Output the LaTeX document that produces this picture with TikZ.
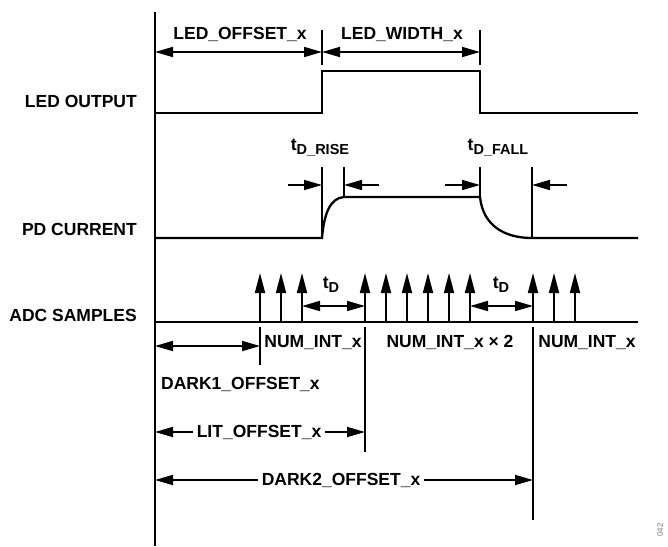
\documentclass[tikz,border=0pt]{standalone}
\usepackage{fontspec}
\setmainfont{Liberation Sans}
\usetikzlibrary{arrows.meta,positioning}
\definecolor{ink}{HTML}{000000}
\newcommand\tsub[1]{t\raisebox{-0.45ex}{\fontsize{14.5}{16}\selectfont #1}}

\begin{document}
\begin{tikzpicture}[x=1pt,y=-1pt,font=\fontsize{17.5}{20}\selectfont\bfseries,
 >={Triangle[length=18pt,width=10pt]},
 sig/.style={line width=2.3pt,ink},
 dim/.style={<->,line width=1.7pt,ink},
 half/.style={->,line width=1.7pt,ink},
 tickline/.style={line width=1.2pt,ink},
 rowlbl/.style={anchor=base east,inner sep=0pt},
 dimlbl/.style={anchor=base,inner sep=0pt},
 gaplbl/.style={inner xsep=4pt,inner ysep=0pt},
 samp/.style={-{Triangle[length=20pt,width=10pt]},line width=1.7pt,ink}]
 \useasboundingbox (0,0) rectangle (668,546);
 % key positions
 \coordinate (ax) at (155,0);
 \coordinate (on) at (322,0);
 \coordinate (off) at (480,0);
 \coordinate (top) at (344,0);
 \coordinate (low) at (532,0);
 \draw[line width=2.4pt] (155,12) -- (155,546);
 % row labels
 \node[rowlbl] (ledlbl) at (137,107) {LED OUTPUT};
 \node[rowlbl] (pdlbl) at (137,235) {PD CURRENT};
 \node[rowlbl] (adclbl) at (137,321) {ADC SAMPLES};
 % LED output
 \draw[sig] (155,113) -- (on|-0,113) -- (on|-0,71) -- (off|-0,71) -- (off|-0,113) -- (638,113);
 \draw[tickline] (on|-0,30) -- (on|-0,65) (off|-0,30) -- (off|-0,65);
 \coordinate (a0) at (155,52);
 \coordinate (a1) at (on|-a0);
 \coordinate (a2) at (off|-a0);
 \draw[dim] (a0) -- (a1);
 \draw[dim] (a1) -- (a2);
 \node[dimlbl] (ledoff) at (240,39) {LED\_OFFSET\_x};
 \node[dimlbl] (ledwid) at (402,39) {LED\_WIDTH\_x};
 % PD current
 \draw[sig] (155,238) -- (322,238) .. controls (324,214) and (330,198) .. (344,197)
   -- (480,197) .. controls (483,226) and (505,238) .. (532,238) -- (638,238);
 \draw[tickline] (on|-0,167) -- (on|-0,238) (top|-0,167) -- (top|-0,197)
   (off|-0,167) -- (off|-0,197) (low|-0,167) -- (low|-0,238);
 \coordinate (r0) at (288,185);
 \coordinate (r1) at (on|-r0);
 \coordinate (r2) at (379,185);
 \coordinate (r3) at (top|-r0);
 \coordinate (f0) at (445,185);
 \coordinate (f1) at (off|-r0);
 \coordinate (f2) at (567,185);
 \coordinate (f3) at (low|-r0);
 \draw[half] (r0) -- (r1);
 \draw[half] (r2) -- (r3);
 \draw[half] (f0) -- (f1);
 \draw[half] (f2) -- (f3);
 \node[dimlbl] (trise) at (320,150) {\tsub{D\_RISE}};
 \node[dimlbl] (tfall) at (498,150) {\tsub{D\_FALL}};
 % ADC samples
 \draw[sig] (155,322) -- (638,322);
 \foreach \x in {260,281,302,365,386,407,428,449,470,533,554,575}
   \draw[samp] (\x,322) -- (\x,273);
 \coordinate (d0) at (302,306);
 \coordinate (d1) at (365,306);
 \coordinate (d2) at (470,306);
 \coordinate (d3) at (533,306);
 \draw[dim] (d0) -- (d1);
 \draw[dim] (d2) -- (d3);
 \node[dimlbl] (td1) at (331,288) {\tsub{D}};
 \node[dimlbl] (td2) at (501,288) {\tsub{D}};
 \draw[tickline] (260,327) -- (260,365) (365,327) -- (365,452) (533,327) -- (533,520);
 \node[dimlbl] (n1) at (313,347) {NUM\_INT\_x};
 \node[dimlbl] (n2) at (450,347) {NUM\_INT\_x × 2};
 \node[dimlbl] (n3) at (587,347) {NUM\_INT\_x};
 % offsets
 \coordinate (k0) at (155,346);
 \coordinate (k1) at (260,346);
 \draw[dim] (k0) -- (k1);
 \node[anchor=base west,inner sep=0pt] (dark1) at (161,389) {DARK1\_OFFSET\_x};
 \coordinate (l0) at (155,432);
 \coordinate (l1) at (365,432);
 \node[gaplbl] (lit) at (259,432) {LIT\_OFFSET\_x};
 \draw[half] (lit) -- (l0);
 \draw[half] (lit) -- (l1);
 \coordinate (m0) at (155,480);
 \coordinate (m1) at (533,480);
 \node[gaplbl] (dark2) at (341,480) {DARK2\_OFFSET\_x};
 \draw[half] (dark2) -- (m0);
 \draw[half] (dark2) -- (m1);
 \node[rotate=90,text=gray,font=\fontsize{8}{9}\selectfont] (fig) at (660,530) {042};
\end{tikzpicture}
\end{document}
